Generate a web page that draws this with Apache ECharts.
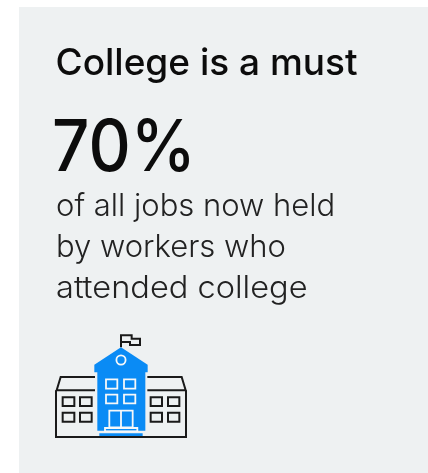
<!DOCTYPE html>
<html><head><meta charset="utf-8">
<style>html,body{margin:0;padding:0;background:#fff}#c{width:428px;height:473px}</style>
<script src="https://cdn.jsdelivr.net/npm/echarts@6/dist/echarts.min.js"></script>
</head><body><div id="c"></div>
<script>
const headline = "College is a must";
const stat = "70%";
const bodyLines = ["of all jobs now held", "by workers who", "attended college"];

const BLUE = "#0a8bf5", INK = "#1a1a1a", WHITE = "#f6f8f9";
const chart = echarts.init(document.getElementById('c'), null, {renderer:'canvas'});
const X = z => 40 + z/3, Y = z => 320 + z/3;
const P = pts => pts.map(p => [X(p[0]), Y(p[1])]);
const poly = (pts, style, closed=true) => ({type: closed?'polygon':'polyline', shape:{points:P(pts)}, style});
const box = (x0,y0,x1,y1,style) => ({type:'rect', shape:{x:X(x0),y:Y(y0),width:(x1-x0)/3,height:(y1-y0)/3}, style});
const inkLine = {stroke:INK, lineWidth:2, fill:null};
const whiteLine = {stroke:WHITE, lineWidth:1.8, fill:null};
const lineStretch = [1, 1, 1.05];

const els = [];
els.push({type:'rect', shape:{x:19,y:7,width:409,height:466}, style:{fill:'#eef1f2'}});
els.push({type:'text', x:55.5, y:64, style:{text:headline, font:'500 37px Inter', fill:'#0c0c0c', textVerticalAlign:'middle'}});
els.push({type:'text', x:52, y:149, scaleX:0.91, style:{text:stat, font:'500 72px Inter', fill:'#0c0c0c', textVerticalAlign:'middle'}});
bodyLines.forEach((t,i)=>els.push({type:'text', x:56, y:207+i*41, scaleX:lineStretch[i], style:{text:t, font:'300 31px Inter', fill:'#222', textVerticalAlign:'middle'}}));

// wings
els.push(poly([[165,171],[62,171],[50,211],[165,211]], inkLine, false));
els.push(poly([[322,171],[425,171],[437,211],[322,211]], inkLine, false));
els.push(poly([[48,211],[48,351],[438,351],[438,211]], inkLine, false));
[[68,103],[120,155],[332,366],[384,418]].forEach(c=>{
  [[232,258],[278,305]].forEach(r=>els.push(box(c[0],r[0],c[1],r[1],inkLine)));
});
// flag
els.push(poly([[243,82],[243,46],[275,46],[275,56],[300,56],[300,75],[270,75],[270,66],[243,66]], inkLine, false));
// tower
els.push(box(172,150,316,332,{fill:BLUE}));
els.push(poly([[243,82],[323,134],[323,157],[163,157],[163,134]],{fill:BLUE}));
els.push(box(178,340,308,348,{fill:BLUE}));
els.push({type:'circle', shape:{cx:X(243),cy:Y(120),r:4.6}, style:whiteLine});
[[198,232],[252,286]].forEach(c=>{
  [[178,206],[224,250]].forEach(r=>els.push(box(c[0],r[0],c[1],r[1],whiteLine)));
});
els.push(box(208,272,278,322,whiteLine));
els.push({type:'line', shape:{x1:X(243),y1:Y(272),x2:X(243),y2:Y(322)}, style:whiteLine});
els.push(box(195,324,292,334,whiteLine));

chart.setOption({animation:false, backgroundColor:'#ffffff', graphic:{elements:els}});
</script></body></html>
